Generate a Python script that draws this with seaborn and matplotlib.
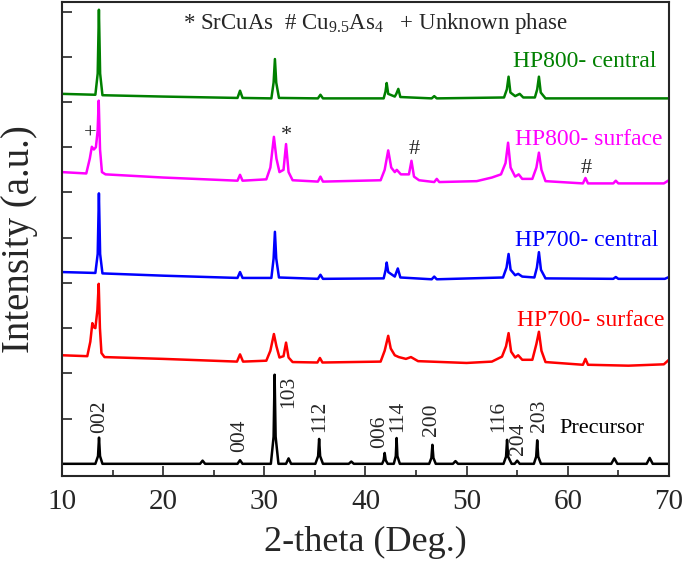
import numpy as np
import pandas as pd

import matplotlib
matplotlib.use("Agg")
import matplotlib.pyplot as plt
import seaborn as sns

# DATA (2-theta, intensity above each pattern's offset)
precursor = [(10.0, 0.0), (13.3, 0.0), (13.56, 0.17), (13.66, 0.58), (13.76, 0.17), (14.0, 0.0),
             (23.65, 0.0), (23.9, 0.07), (24.15, 0.0),
             (27.35, 0.0), (27.6, 0.08), (27.85, 0.0),
             (30.65, 0.0), (30.92, 0.6), (31.02, 1.97), (31.12, 0.6), (31.4, 0.0),
             (32.15, 0.0), (32.4, 0.12), (32.65, 0.0),
             (35.05, 0.0), (35.32, 0.17), (35.42, 0.55), (35.52, 0.17), (35.8, 0.0),
             (38.35, 0.0), (38.6, 0.05), (38.85, 0.0),
             (41.65, 0.0), (41.8, 0.08), (41.9, 0.24), (42.0, 0.08), (42.2, 0.0),
             (42.8, 0.0), (43.0, 0.17), (43.08, 0.57), (43.16, 0.17), (43.4, 0.0),
             (46.3, 0.0), (46.52, 0.13), (46.62, 0.42), (46.72, 0.13), (46.95, 0.0),
             (48.65, 0.0), (48.9, 0.06), (49.15, 0.0),
             (53.65, 0.0), (53.9, 0.16), (54.0, 0.53), (54.1, 0.16), (54.45, 0.0),
             (54.75, 0.0), (55.0, 0.07), (55.25, 0.0),
             (56.65, 0.0), (56.88, 0.16), (56.98, 0.52), (57.08, 0.16), (57.35, 0.0),
             (64.3, 0.0), (64.6, 0.12), (64.9, 0.0),
             (67.8, 0.0), (68.1, 0.13), (68.4, 0.0), (70.0, 0.0)]

hp700_surface = [(10.0, 0.0), (12.5, -0.02), (12.8, 0.3), (13.0, 0.71), (13.15, 0.62), (13.3, 0.6),
                 (13.5, 1.0), (13.63, 1.58), (13.75, 0.6), (13.9, 0.05), (14.2, -0.04),
                 (20.0, -0.08), (27.3, -0.14), (27.6, 0.02), (27.9, -0.14),
                 (30.2, -0.12), (30.6, 0.1), (30.95, 0.47), (31.2, 0.2), (31.5, -0.05),
                 (31.9, -0.02), (32.15, 0.28), (32.4, -0.05), (32.8, -0.15),
                 (35.25, -0.16), (35.5, -0.06), (35.75, -0.16),
                 (41.5, -0.14), (41.9, 0.1), (42.25, 0.43), (42.5, 0.15), (42.9, 0.0),
                 (43.3, -0.04), (44.0, -0.08), (44.5, -0.04), (45.2, -0.13),
                 (50.0, -0.17), (52.5, -0.14), (53.5, -0.03), (53.9, 0.2), (54.15, 0.49),
                 (54.4, 0.08), (54.8, -0.05), (55.1, 0.0), (55.5, -0.1),
                 (56.5, -0.1), (56.9, 0.25), (57.15, 0.52), (57.4, 0.1), (57.8, -0.15),
                 (61.5, -0.21), (61.75, -0.08), (62.0, -0.21), (66.0, -0.23), (69.5, -0.2), (70.0, -0.1)]

hp700_central = [(10.0, 0.0), (13.3, -0.02), (13.53, 0.4), (13.65, 1.74), (13.77, 0.4), (14.0, -0.03),
                 (20.0, -0.08), (27.35, -0.13), (27.6, 0.0), (27.85, -0.13),
                 (30.7, -0.13), (30.92, 0.3), (31.05, 0.89), (31.18, 0.3), (31.45, -0.12),
                 (35.3, -0.15), (35.55, -0.06), (35.8, -0.15),
                 (41.8, -0.14), (42.0, 0.05), (42.1, 0.21), (42.25, 0.0), (42.9, -0.1),
                 (43.2, 0.08), (43.45, -0.12),
                 (46.55, -0.16), (46.8, -0.1), (47.05, -0.16),
                 (53.6, -0.12), (53.95, 0.1), (54.15, 0.4), (54.35, 0.05), (54.8, -0.07),
                 (55.1, -0.04), (55.5, -0.1),
                 (56.7, -0.12), (56.95, 0.1), (57.15, 0.44), (57.35, 0.05), (57.8, -0.14),
                 (64.5, -0.15), (64.75, -0.11), (65.0, -0.15), (69.6, -0.15), (70.0, -0.11)]

hp800_surface = [(10.0, 0.0), (12.4, -0.03), (12.75, 0.3), (12.95, 0.56), (13.15, 0.5), (13.35, 0.55),
                 (13.52, 0.9), (13.63, 1.58), (13.76, 0.5), (13.95, 0.0), (14.3, -0.05),
                 (20.0, -0.12), (27.35, -0.19), (27.6, -0.06), (27.85, -0.19),
                 (30.2, -0.16), (30.6, 0.1), (30.95, 0.78), (31.2, 0.3), (31.5, 0.0),
                 (31.9, 0.05), (32.15, 0.62), (32.4, 0.0), (32.8, -0.18),
                 (35.3, -0.21), (35.55, -0.1), (35.8, -0.21),
                 (41.5, -0.18), (41.9, 0.05), (42.25, 0.48), (42.55, 0.1), (42.9, 0.0),
                 (43.1, 0.05), (43.5, -0.05), (44.3, -0.05), (44.55, 0.25), (44.8, -0.1), (45.3, -0.18),
                 (46.8, -0.22), (47.05, -0.15), (47.3, -0.22),
                 (51.0, -0.2), (52.5, -0.12), (53.4, -0.05), (53.85, 0.2), (54.1, 0.65),
                 (54.35, 0.1), (54.8, -0.1), (55.15, -0.05), (55.5, -0.15),
                 (56.5, -0.15), (56.9, 0.1), (57.15, 0.43), (57.4, 0.05), (57.8, -0.2),
                 (61.5, -0.25), (61.75, -0.13), (62.0, -0.25), (64.5, -0.25), (64.75, -0.19),
                 (65.0, -0.25), (69.5, -0.25), (70.0, -0.18)]

hp800_central = [(10.0, 0.0), (13.3, -0.02), (13.53, 0.45), (13.65, 1.86), (13.77, 0.45), (14.0, -0.03),
                 (20.0, -0.06), (27.35, -0.09), (27.6, 0.07), (27.85, -0.09),
                 (30.7, -0.1), (30.92, 0.25), (31.05, 0.77), (31.18, 0.25), (31.45, -0.09),
                 (35.3, -0.1), (35.55, -0.02), (35.8, -0.1),
                 (41.8, -0.1), (41.98, 0.05), (42.1, 0.24), (42.25, 0.0), (42.9, -0.06),
                 (43.05, 0.0), (43.25, 0.11), (43.45, -0.07),
                 (46.55, -0.1), (46.8, -0.05), (47.05, -0.1),
                 (53.7, -0.08), (53.98, 0.1), (54.15, 0.38), (54.33, 0.03), (54.8, -0.05),
                 (55.25, 0.0), (55.6, -0.08),
                 (56.75, -0.08), (56.98, 0.1), (57.15, 0.38), (57.33, 0.03), (57.8, -0.1),
                 (70.0, -0.1)]

names = ["Precursor", "HP700- surface", "HP700- central", "HP800- surface", "HP800- central"]
offsets = [0.0, 2.40, 4.24, 6.45, 8.18]
colors = ["black", "#FF0000", "#0000FF", "#FF00FF", "#008000"]
patterns = [precursor, hp700_surface, hp700_central, hp800_surface, hp800_central]

# precursor reflections (label, x, y of label foot)
hkl_labels = ["002", "004", "103", "112", "006", "114", "200", "116", "204", "203"]
hkl_x = [13.7, 27.6, 32.43, 35.5, 41.42, 43.2, 46.56, 53.18, 55.16, 57.23]
hkl_y = [0.68, 0.26, 1.23, 0.70, 0.35, 0.70, 0.61, 0.70, 0.19, 0.70]

# phase markers on HP800- surface
mark_text = ["+", "*", "#", "#"]
mark_x = [12.77, 32.23, 44.78, 61.78]
mark_y = [7.29, 7.25, 6.94, 6.54]

# STYLE
sns.set_style("ticks")
plt.rcParams["font.family"] = ["Liberation Serif", "DejaVu Serif"]
plt.rcParams["mathtext.fontset"] = "custom"
plt.rcParams["mathtext.rm"] = "Liberation Serif"

fig = plt.figure(figsize=(6.85, 5.69), dpi=100)
ax = fig.add_axes([0.0905, 0.1634, 0.886, 0.833])

# PATTERNS
rows = []
for name, off, pts in zip(names, offsets, patterns):
    for x, y in pts:
        rows.append({"sample": name, "theta": x, "intensity": y + off})
df = pd.DataFrame(rows)

sns.lineplot(data=df, x="theta", y="intensity", hue="sample",
             hue_order=names, palette=colors, sort=False,
             estimator=None, linewidth=1.8, legend=False, ax=ax)

# LABELS ON THE CURVES
label_pos = [(59.2, 0.77), (54.96, 3.16), (54.76, 4.93), (54.76, 7.16), (54.57, 8.89)]
for name, c, (lx, ly) in zip(names, colors, label_pos):
    fs = 16 if name == "Precursor" else 17
    ax.text(lx, ly, name, color=c, fontsize=fs, ha="left", va="center")

for lab, x, y in zip(hkl_labels, hkl_x, hkl_y):
    ax.text(x, y, lab, rotation=90, fontsize=15.5, ha="center", va="bottom")

for m, x, y in zip(mark_text, mark_x, mark_y):
    ax.text(x, y, m, fontsize=16, ha="center", va="center")

ax.text(21.96, 9.73,
        r"* SrCuAs  # Cu$\mathregular{_{9.5}}$As$\mathregular{_4}$   + Unknown phase",
        fontsize=16.5, ha="left", va="center")

# AXES
ax.set_xlim(10, 70)
ax.set_ylim(-0.27, 10.21)
ax.set_xticks(np.arange(10, 71, 10))
ax.set_xticks(np.arange(15, 70, 10), minor=True)
ax.set_yticks(np.arange(0, 11, 1))
ax.set_yticklabels([])
ax.tick_params(axis="x", which="major", direction="in", length=7, width=1.2,
               labelsize=21, pad=9)
ax.tick_params(axis="x", which="minor", direction="in", length=4, width=1.2)
ax.tick_params(axis="y", which="major", direction="in", length=7, width=1.2)
for s in ax.spines.values():
    s.set_linewidth(1.5)

ax.set_xlabel("2-theta (Deg.)", fontsize=26, labelpad=8)
ax.set_ylabel("Intensity (a.u.)", fontsize=28, labelpad=14)

plt.savefig("out.png", dpi=100)
plt.close()
